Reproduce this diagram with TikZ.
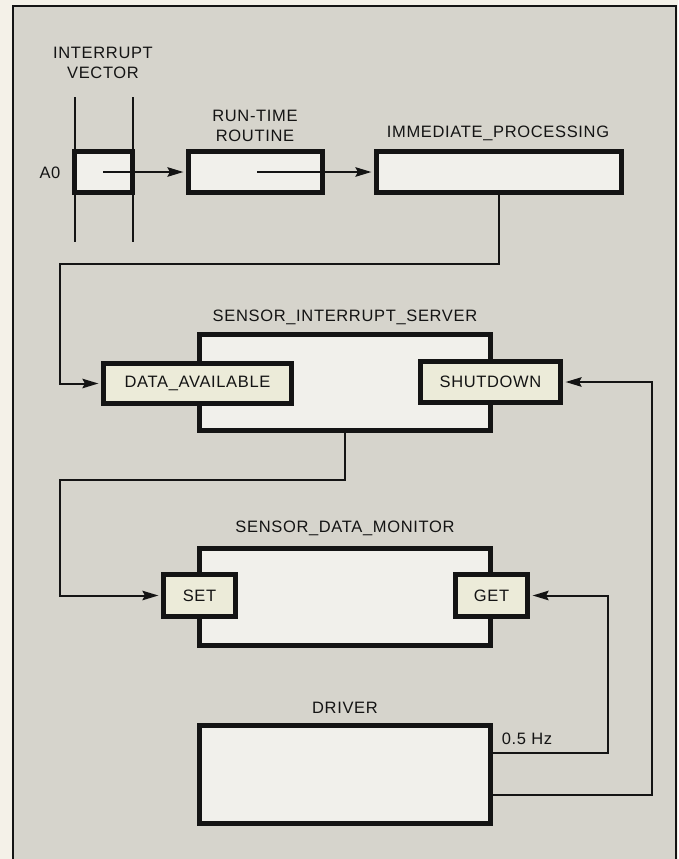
\documentclass[tikz,border=0pt]{standalone}
\usepackage{fontspec}
\setmainfont{Liberation Sans}[LetterSpace=4]
\usetikzlibrary{arrows.meta}
\definecolor{paper}{HTML}{F4F1E8}
\definecolor{panel}{HTML}{D6D4CC}
\definecolor{boxfill}{HTML}{F1F0EB}
\definecolor{portfill}{HTML}{ECEBD9}
\definecolor{ink}{HTML}{141414}
\begin{document}
\begin{tikzpicture}[x=1pt,y=-1pt,
  lbl/.style={font=\fontsize{16.5}{20}\selectfont, align=center, inner sep=0pt, text=ink},
  bigbox/.style={draw=ink, line width=4.2pt, fill=boxfill, inner sep=0pt},
  portbox/.style={draw=ink, line width=4.2pt, fill=portfill, inner sep=0pt, font=\fontsize{16.5}{20}\selectfont, text=ink},
  conn/.style={draw=ink, line width=2pt},
  arr/.style={conn, -{Stealth[length=16pt,width=9.5pt,inset=2.5pt]}, shorten >=3pt}
]
\useasboundingbox (0,0) rectangle (678,859);
\fill[paper] (0,0) rectangle (678,859);
\fill[panel] (13,6) rectangle (676,859);
\draw[ink, line width=2pt] (13,859) -- (13,6) -- (676,6) -- (676,859);

% interrupt vector rails
\coordinate (rl1) at (74.5,97); \coordinate (rl2) at (74.5,242);
\coordinate (rr1) at (132.5,97); \coordinate (rr2) at (132.5,242);
\draw[conn] (rl1) -- (rl2);
\draw[conn] (rr1) -- (rr2);

% boxes
\node[bigbox, minimum width=58pt, minimum height=41pt] (ivbox) at (103.5,172) {};
\node[bigbox, minimum width=134pt, minimum height=41pt] (rtbox) at (255.5,172) {};
\node[bigbox, minimum width=245pt, minimum height=41pt] (ipbox) at (499,172) {};
\node[bigbox, minimum width=291pt, minimum height=96pt] (sisbox) at (345,382.5) {};
\node[bigbox, minimum width=291pt, minimum height=97pt] (sdmbox) at (345,597) {};
\node[bigbox, minimum width=291pt, minimum height=98pt] (drvbox) at (345,774.5) {};

% ports
\node[portbox, minimum width=188pt, minimum height=40pt] (dabox) at (197.5,383.5) {DATA\_AVAILABLE};
\node[portbox, minimum width=140pt, minimum height=41pt] (sdbox) at (490.5,382) {SHUTDOWN};
\node[portbox, minimum width=72pt, minimum height=42pt] (setbox) at (199.5,595.5) {SET};
\node[portbox, minimum width=72pt, minimum height=42pt] (getbox) at (491.5,595.5) {GET};

% labels
\node[lbl] (ivlbl) at (103,63) {INTERRUPT\\VECTOR};
\node[lbl] (a0lbl) at (50,173) {A0};
\node[lbl] (rtlbl) at (255,126) {RUN-TIME\\ROUTINE};
\node[lbl] (iplbl) at (498,133) {IMMEDIATE\_PROCESSING};
\node[lbl] (sislbl) at (345,317) {SENSOR\_INTERRUPT\_SERVER};
\node[lbl] (sdmlbl) at (345,528) {SENSOR\_DATA\_MONITOR};
\node[lbl] (drvlbl) at (345,708) {DRIVER};
\node[lbl] (hzlbl) at (527,739) {0.5 Hz};

% connectors
\coordinate (a0) at (103,172);
\coordinate (rt0) at (257,172);
\draw[arr] (a0) -- (rtbox.west);
\draw[arr] (rt0) -- (ipbox.west);

\coordinate (d1) at (60,264);
\draw[arr] (ipbox.south) |- (d1) |- (dabox.west);

\coordinate (s1) at (60,480);
\draw[arr] (sisbox.south) |- (s1) |- (setbox.west);

\coordinate (g1) at (608,753);
\draw[arr] (drvbox.east |- g1) -- (g1) |- (getbox.east);

\coordinate (h1) at (652,795);
\draw[arr] (drvbox.east |- h1) -- (h1) |- (sdbox.east);
\end{tikzpicture}
\end{document}
